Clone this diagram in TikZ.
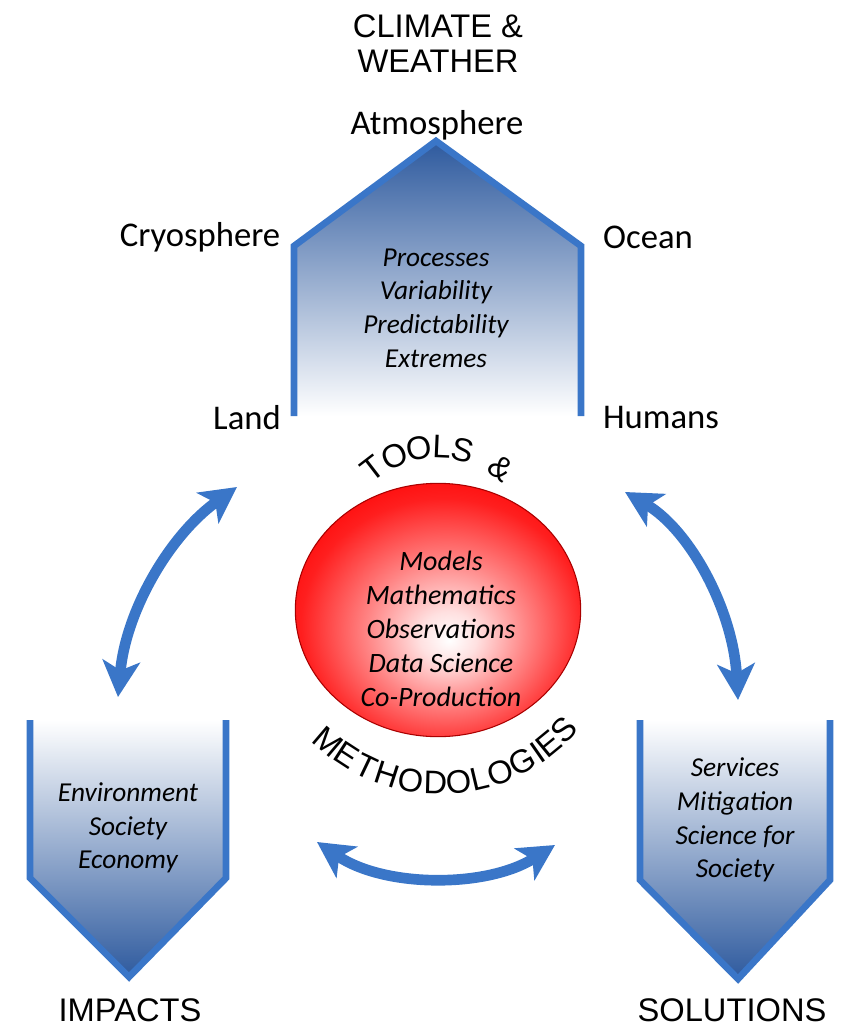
\documentclass[tikz,border=0pt]{standalone}
\usepackage{fontspec}
\setmainfont{Carlito}
\newfontfamily\arialfont{Liberation Sans}
\usetikzlibrary{arrows.meta,shapes.geometric}
\definecolor{lineblue}{RGB}{58,118,200}
\definecolor{shadeblue}{RGB}{46,90,158}
\definecolor{balledge}{RGB}{170,0,0}
\pgfdeclareradialshading{redball}{\pgfpoint{2bp}{-6bp}}{color(0bp)=(white); color(5bp)=(red!12!white); color(14bp)=(red!48!white); color(25bp)=(red!88!white); color(32bp)=(red); color(50bp)=(red)}

\begin{document}
\begin{tikzpicture}[x=0.75pt,y=0.75pt,yscale=-1,xscale=1,
	caps/.style={font=\arialfont\fontsize{24.5}{26.3}\selectfont, align=center, inner sep=0pt},
	arcletter/.style={font=\arialfont\fontsize{24.5}{24.5}\selectfont, inner sep=0pt},
	sphere/.style={font=\fontsize{26}{30}\selectfont, inner sep=0pt},
	itlist/.style={font=\itshape\fontsize{20.5}{25.2}\selectfont, align=center, inner sep=0pt},
	frame/.style={draw=lineblue, line width=5pt},
	twoway/.style={draw=lineblue, line width=8pt, {Stealth[length=27pt,width=28pt,inset=7pt]}-{Stealth[length=27pt,width=28pt,inset=7pt]}}
	]
	\useasboundingbox (0,0) rectangle (843,1027);
	\draw[frame, top color=shadeblue, bottom color=white] (294,416) -- (294,246) -- (436,141) -- (581,246) -- (581,416);
	\draw[frame, top color=white, bottom color=shadeblue] (30,720) -- (30,878) -- (129,977) -- (226,878) -- (226,720);
	\draw[frame, top color=white, bottom color=shadeblue] (640,720) -- (640,880) -- (738,979) -- (830,880) -- (830,720);
	\node[ellipse, draw=balledge, line width=0.8pt, shading=redball, minimum width=214pt, minimum height=190pt, inner sep=0pt] (ball) at (438,610) {};
	\node[itlist, font=\itshape\fontsize{21}{25.5}\selectfont] (methods) at (441,629) {Models\\Mathematics\\Observations\\Data Science\\Co-Production};
	\coordinate (tools-c) at (437,553);
	\foreach \ch/\p [count=\i] in {T/127.5, O/113.6, O/100, L/87.5, S/76, \&/53}
		\node[arcletter, rotate=\p-90] (tools-\i) at ([shift={({-\p}:106)}]tools-c) {\ch};
	\coordinate (meth-c) at (440,611);
	\foreach \ch/\a [count=\i] in {M/-40.4, E/-33, T/-25.5, H/-18, O/-9.8, D/-1.5, O/6.2, L/13.4, O/20.5, G/28.7, I/34.8, E/39.4, S/46.2}
		\node[arcletter, rotate=\a] (meth-\i) at ([shift={({90-\a}:172)}]meth-c) {\ch};
	\node[caps] (climate) at (438,44) {CLIMATE \&\\WEATHER};
	\node[sphere] (atmos) at (437,125) {Atmosphere};
	\node[sphere] (cryo) at (200,237) {Cryosphere};
	\node[sphere] (ocean) at (648,237) {Ocean};
	\node[sphere] (land) at (247,418) {Land};
	\node[sphere] (humans) at (661,418) {Humans};
	\node[itlist] (climlist) at (436,308) {Processes\\Variability\\Predictability\\Extremes};
	\node[itlist] (implist) at (128,828) {Environment\\Society\\Economy};
	\node[itlist] (sollist) at (735,820) {Services\\Mitigation\\Science for\\Society};
	\node[caps] (impacts) at (130,1010) {IMPACTS};
	\node[caps] (solutions) at (732,1010) {SOLUTIONS};
	\coordinate (lw-a) at (118,697);
	\coordinate (lw-b) at (237,487);
	\coordinate (rw-a) at (625,492);
	\coordinate (rw-b) at (738,700);
	\coordinate (bw-a) at (317,842);
	\coordinate (bw-b) at (555,845);
	\draw[twoway] (lw-a) .. controls (126,610) and (170,535) .. (lw-b);
	\draw[twoway] (rw-a) .. controls (690,530) and (733,610) .. (rw-b);
	\draw[twoway] (bw-a) .. controls (385,888) and (487,888) .. (bw-b);
\end{tikzpicture}
\end{document}
